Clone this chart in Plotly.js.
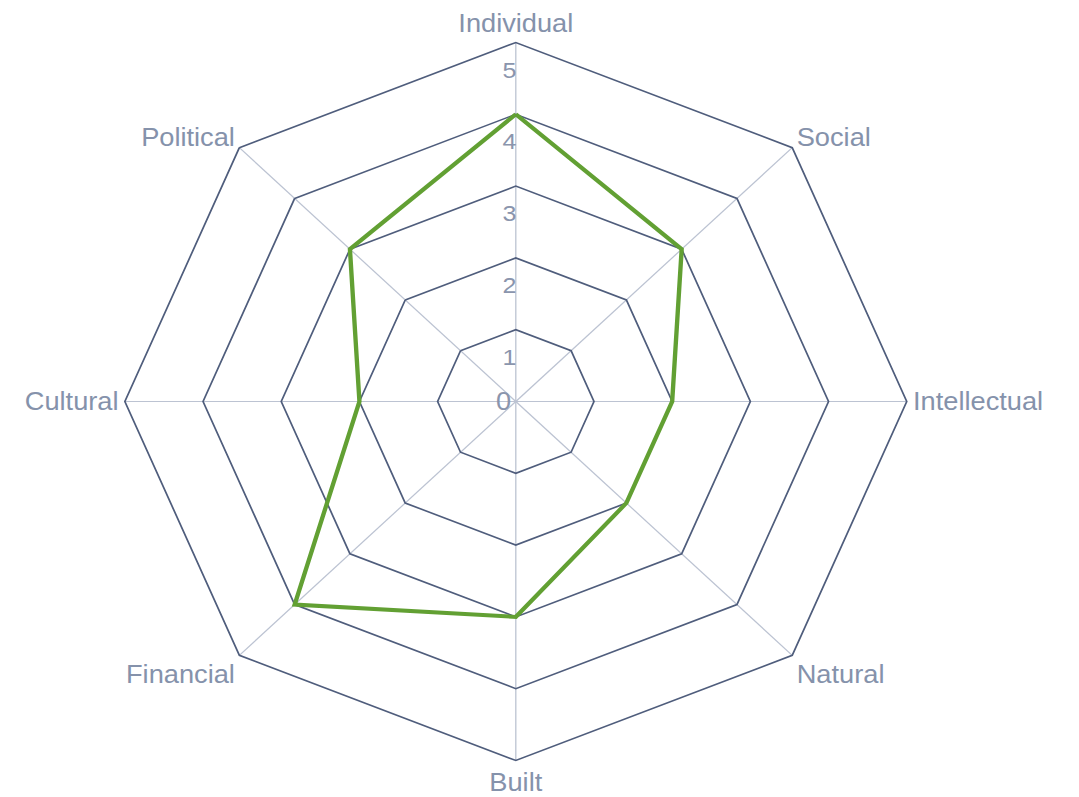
<!DOCTYPE html>
<html>
<head>
<meta charset="utf-8">
<script src="https://cdn.plot.ly/plotly-3.0.1.min.js"></script>
<style>
  html, body { margin: 0; padding: 0; background: #ffffff; overflow: hidden; }
  #chart { width: 991px; height: 797px; transform: scaleX(1.089); transform-origin: 0 0; }
</style>
</head>
<body>
<div id="chart"></div>
<script>
const categories = ["Individual", "Social", "Intellectual", "Natural", "Built", "Financial", "Cultural", "Political"];
const scores = [4, 3, 2, 2, 3, 4, 2, 3];
const radialTicks = [0, 1, 2, 3, 4, 5];

const theta = categories.concat([categories[0]]);
const r = scores.concat([scores[0]]);

const trace = {
  type: "scatterpolar",
  r: r,
  theta: theta,
  mode: "lines",
  line: { color: "#62a033", width: 4 },
  hoverinfo: "skip",
  showlegend: false
};

// radial tick labels 1..5 drawn as text marks on the Individual spoke
const outerTicks = radialTicks.filter(v => v > 0);
const tickLabels = {
  type: "scatterpolar",
  r: outerTicks,
  theta: outerTicks.map(() => categories[0]),
  mode: "markers+text",
  marker: { size: 27, opacity: 0 },
  text: outerTicks.map(v => String(v) + "\u2002"),
  textposition: "bottom center",
  textfont: { family: "Liberation Sans, Arial, sans-serif", size: 23, color: "#8a95ad" },
  hoverinfo: "skip",
  showlegend: false,
  cliponaxis: false
};

const layout = {
  width: 991,
  height: 797,
  margin: { l: 0, r: 0, t: 0, b: 0 },
  paper_bgcolor: "#ffffff",
  plot_bgcolor: "#ffffff",
  font: { family: "Liberation Sans, Arial, sans-serif", color: "#8592ab" },
  showlegend: false,
  polar: {
    domain: { x: [0.1157, 0.8402], y: [0.0458, 0.9467] },
    bgcolor: "#ffffff",
    gridshape: "linear",
    radialaxis: {
      range: [0, 5],
      tickvals: radialTicks,
      ticktext: radialTicks.map(v => v === 0 ? "0" : ""),
      angle: 90,
      side: "counterclockwise",
      tickangle: 90,
      showline: false,
      showticklabels: true,
      ticks: "",
      gridcolor: "#4f5d7c",
      gridwidth: 1.6,
      tickfont: { family: "Liberation Sans, Arial, sans-serif", size: 25, color: "#8a95ad" }
    },
    angularaxis: {
      type: "category",
      categoryarray: categories,
      rotation: 90,
      direction: "clockwise",
      showline: true,
      linecolor: "#4f5d7c",
      linewidth: 1.6,
      gridcolor: "#bcc3d2",
      gridwidth: 1.2,
      ticks: "",
      tickfont: { size: 25, color: "#8592ab" }
    }
  }
};

Plotly.newPlot("chart", [tickLabels, trace], layout, { displayModeBar: false, staticPlot: true });
</script>
</body>
</html>
